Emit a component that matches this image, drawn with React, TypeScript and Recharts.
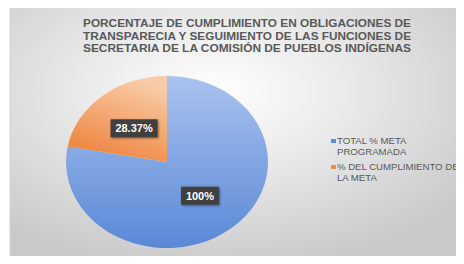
import { Legend, Pie, PieChart, Cell } from 'recharts';

const categories = ['TOTAL % META PROGRAMADA', '% DEL CUMPLIMIENTO DE LA META'];
const values = [100, 28.37];
const valueLabels = ['100%', '28.37%'];
const legendLines = [
  ['TOTAL % META', 'PROGRAMADA'],
  ['% DEL CUMPLIMIENTO DE', 'LA META'],
];
const titleLines = [
  'PORCENTAJE DE CUMPLIMIENTO EN OBLIGACIONES DE',
  'TRANSPARECIA Y SEGUIMIENTO DE LAS FUNCIONES DE',
  'SECRETARIA DE LA COMISIÓN DE PUEBLOS INDÍGENAS',
];

const data = categories.map((name, i) => ({ name, value: values[i], label: valueLabels[i] }));
const fills = ['url(#pieBlue)', 'url(#pieOrange)'];
const markers = ['#5b8bd9', '#f08a45'];
const FONT = '"Liberation Sans", Arial, sans-serif';
const RAD = Math.PI / 180;

// the source picture is a little stretched sideways, so the pie is drawn as an ellipse
const CX = 167;
const CY = 162;
const R = 93;
const SX = 1.086;
const SY = 0.925;

function SliceLabel(props: any) {
  const { cx, cy, midAngle, outerRadius, index } = props;
  const k = 0.51;
  const x = cx + outerRadius * SX * k * Math.cos(-midAngle * RAD);
  const y = cy + outerRadius * SY * k * Math.sin(-midAngle * RAD);
  const text = data[index].label;
  const w = text.length * 4.5 + 20;
  return (
    <g>
      <rect
        x={x - w / 2}
        y={y - 9}
        width={w}
        height={18}
        fill="#404040"
        style={{ filter: 'drop-shadow(1px 1px 1px rgba(0,0,0,0.45))' }}
      />
      <text
        x={x}
        y={y + 4}
        textAnchor="middle"
        fill="#ffffff"
        fontFamily={FONT}
        fontWeight="bold"
        fontSize={11}
      >
        {text}
      </text>
    </g>
  );
}

function LegendBox() {
  return (
    <div style={{ fontFamily: FONT, fontSize: 9.6, color: '#595959', lineHeight: '11px' }}>
      {legendLines.map((lines, i) => (
        <div key={i} style={{ position: 'relative', paddingLeft: 6, marginBottom: 4, whiteSpace: 'nowrap' }}>
          <span
            style={{
              position: 'absolute',
              left: 0,
              top: 4,
              width: 5,
              height: 4,
              background: markers[i],
            }}
          />
          {lines.map((l) => (
            <div key={l}>{l}</div>
          ))}
        </div>
      ))}
    </div>
  );
}

const css = `
.recharts-pie .recharts-sector {
  transform-box: view-box;
  transform-origin: ${CX}px ${CY}px;
  transform: scale(${SX}, ${SY});
}
`;

export default function App() {
  return (
    <div style={{ position: 'relative', width: 464, height: 264, margin: -8, overflow: 'hidden', background: '#fff' }}>
      <style>{css}</style>
      <svg width={464} height={264} style={{ position: 'absolute', left: 0, top: 0 }}>
        <defs>
          <radialGradient id="bgGrad" cx="0.45" cy="0.33" r="0.7">
            <stop offset="0%" stopColor="#ffffff" />
            <stop offset="40%" stopColor="#ebebeb" />
            <stop offset="100%" stopColor="#c9c9c9" />
          </radialGradient>
          <linearGradient id="pieBlue" x1="0" y1="0" x2="0" y2="1">
            <stop offset="0%" stopColor="#a9c3ee" />
            <stop offset="100%" stopColor="#5a88d7" />
          </linearGradient>
          <linearGradient id="pieOrange" x1="0.6" y1="0" x2="0.2" y2="1">
            <stop offset="0%" stopColor="#f9cba6" />
            <stop offset="100%" stopColor="#ed7f36" />
          </linearGradient>
        </defs>
        <rect x={10} y={7} width={454} height={257} fill="url(#bgGrad)" stroke="#d6d6d6" />
        {titleLines.map((t, i) => (
          <text
            key={t}
            x={247}
            y={27 + i * 12.5}
            textAnchor="middle"
            fontFamily={FONT}
            fontWeight="bold"
            fontSize={10.5}
            fill="#595959"
            textLength={328}
            lengthAdjust="spacingAndGlyphs"
          >
            {t}
          </text>
        ))}
      </svg>
      <div style={{ position: 'absolute', left: 0, top: 0 }}>
        <PieChart width={464} height={264} margin={{ top: 0, right: 0, bottom: 0, left: 0 }}>
          <Pie
            data={data}
            dataKey="value"
            nameKey="name"
            cx={CX}
            cy={CY}
            outerRadius={R}
            startAngle={90}
            endAngle={-270}
            stroke="none"
            label={SliceLabel}
            labelLine={false}
            isAnimationActive={false}
          >
            {data.map((d, i) => (
              <Cell key={d.name} fill={fills[i]} />
            ))}
          </Pie>
          <Legend
            layout="vertical"
            verticalAlign="top"
            align="right"
            content={LegendBox}
            wrapperStyle={{ left: 331, top: 135, width: 133 }}
          />
        </PieChart>
      </div>
    </div>
  );
}
